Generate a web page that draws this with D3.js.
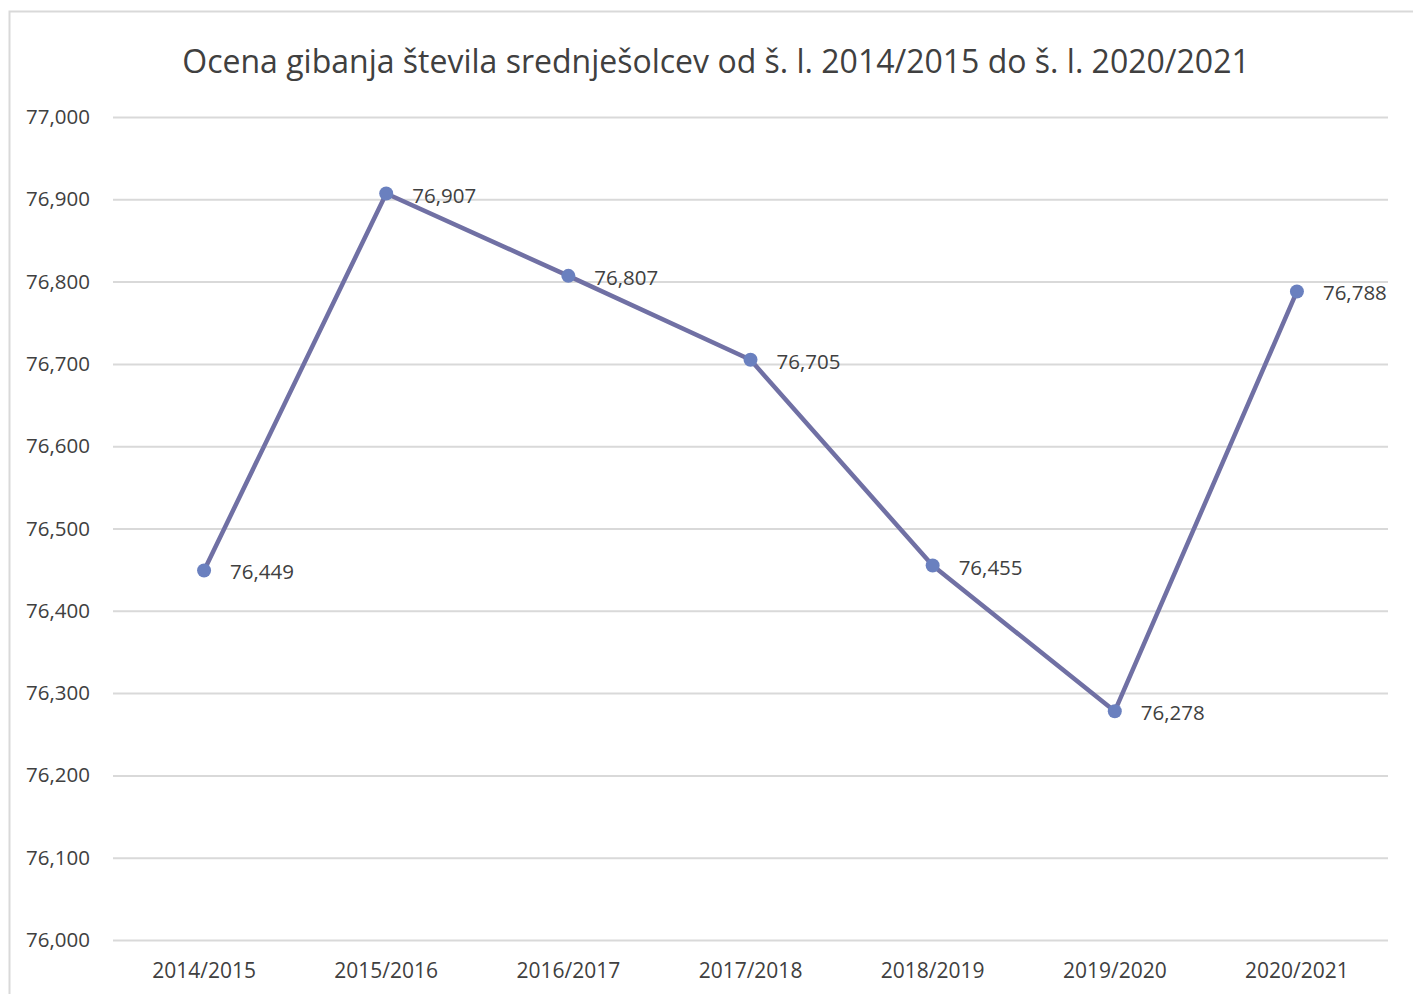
<!DOCTYPE html>
<html lang="sl">
<head>
<meta charset="UTF-8">
<title>Ocena gibanja števila srednješolcev</title>
<script src="https://cdn.jsdelivr.net/npm/d3@7/dist/d3.min.js"></script>
<style>
  body { margin: 0; background: #fff; }
  text { font-family: "Open Sans", "Liberation Sans", sans-serif; fill: #404040; }
</style>
</head>
<body>
<div class="chart"></div>
<script>
  const title = 'Ocena gibanja števila srednješolcev od š. l. 2014/2015 do š. l. 2020/2021'
  const years = ['2014/2015', '2015/2016', '2016/2017', '2017/2018', '2018/2019', '2019/2020', '2020/2021']
  const students = [76449, 76907, 76807, 76705, 76455, 76278, 76788]
  const yTicks = [76000, 76100, 76200, 76300, 76400, 76500, 76600, 76700, 76800, 76900, 77000]

  const width = 1413
  const height = 994
  const margin = { top: 117, right: 25, bottom: 54, left: 113 }

  const svg = d3.select('.chart').append('svg')
    .attr('width', width)
    .attr('height', height)

  // outer frame
  svg.append('rect')
    .attr('x', 9.5).attr('y', 11.5)
    .attr('width', width + 20).attr('height', height + 20)
    .attr('fill', 'none')
    .attr('stroke', '#d9d9d9')
    .attr('stroke-width', 2)

  const x = d3.scaleBand()
    .domain(years)
    .range([margin.left, width - margin.right])

  const y = d3.scaleLinear()
    .domain([76000, 77000])
    .range([height - margin.bottom, margin.top])

  // gridlines
  const fmt = d3.format(',')
  const gY = svg.append('g')
    .attr('transform', `translate(${margin.left},0)`)
    .call(d3.axisLeft(y).tickValues(yTicks).tickFormat(fmt)
      .tickSize(-(width - margin.right - margin.left)).tickPadding(23))
  gY.select('.domain').remove()
  gY.selectAll('line').attr('stroke', '#d9d9d9').attr('stroke-width', 2)
  gY.selectAll('text').style('font-size', '20.5px').attr('fill', '#404040')

  const gX = svg.append('g')
    .attr('transform', `translate(0,${height - margin.bottom})`)
    .call(d3.axisBottom(x).tickSize(0).tickPadding(23))
  gX.select('.domain').remove()
  gX.selectAll('text').style('font-size', '21px').attr('fill', '#404040')

  svg.append('text')
    .attr('x', 716).attr('y', 73)
    .attr('text-anchor', 'middle')
    .style('font-size', '32px')
    .text(title)

  const line = d3.line()
    .x((d, i) => x(years[i]) + x.bandwidth() / 2)
    .y(d => y(d))

  svg.append('path')
    .datum(students)
    .attr('d', line)
    .attr('fill', 'none')
    .attr('stroke', '#7070a4')
    .attr('stroke-width', 4.5)
    .attr('stroke-linejoin', 'round')

  svg.selectAll('.dot')
    .data(students)
    .enter().append('circle')
    .attr('class', 'dot')
    .attr('cx', (d, i) => x(years[i]) + x.bandwidth() / 2)
    .attr('cy', d => y(d))
    .attr('r', 7)
    .attr('fill', '#6a80bf')

  svg.selectAll('.lbl')
    .data(students)
    .enter().append('text')
    .attr('class', 'lbl')
    .attr('x', (d, i) => x(years[i]) + x.bandwidth() / 2 + 26)
    .attr('y', d => y(d) + 9)
    .style('font-size', '20.5px')
    .text(d => fmt(d))
</script>
</body>
</html>
